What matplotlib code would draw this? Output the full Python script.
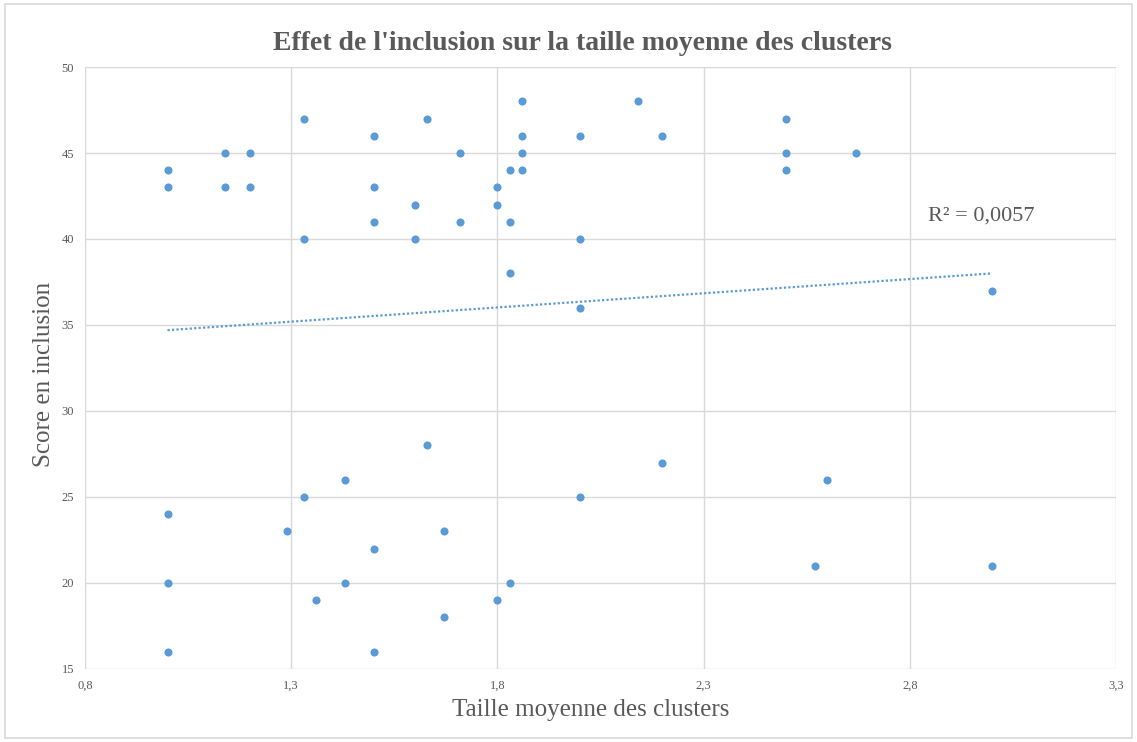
import numpy as np
import matplotlib
matplotlib.use('Agg')
import matplotlib.pyplot as plt
from matplotlib.patches import Rectangle
from matplotlib.ticker import FuncFormatter

# data
taille = [1.0, 1.0, 1.14, 1.14, 1.2, 1.2, 1.33, 1.33, 1.5, 1.5, 1.5, 1.6, 1.6,
          1.63, 1.71, 1.71, 1.8, 1.8, 1.83, 1.83, 1.83, 1.86, 1.86, 1.86, 1.86,
          2.0, 2.0, 2.0, 2.0, 2.14, 2.2, 2.2, 2.5, 2.5, 2.5, 2.67, 3.0, 3.0,
          2.57, 2.6, 1.0, 1.0, 1.0, 1.29, 1.33, 1.36, 1.43, 1.43, 1.5, 1.5,
          1.63, 1.67, 1.67, 1.8, 1.83]
score = [44, 43, 45, 43, 45, 43, 47, 40, 46, 43, 41, 42, 40,
         47, 45, 41, 43, 42, 44, 41, 38, 48, 46, 45, 44,
         46, 40, 36, 25, 48, 46, 27, 47, 45, 44, 45, 37, 21,
         21, 26, 24, 20, 16, 23, 25, 19, 26, 20, 22, 16,
         28, 23, 18, 19, 20]

# linear trend line as shown in the chart (Excel fit)
trend_x = [1.0, 3.0]
trend_y = [34.7, 38.0]
r2_label = "R² = 0,0057"

x_ticks = [0.8, 1.3, 1.8, 2.3, 2.8, 3.3]
y_ticks = [15, 20, 25, 30, 35, 40, 45, 50]

blue = '#5B9BD5'
text_grey = '#595959'
serif = ['Liberation Serif', 'DejaVu Serif']

fig = plt.figure(figsize=(11.37, 7.42), dpi=100)
fig.patches.append(Rectangle((0.004, 0.006), 0.992, 0.988, transform=fig.transFigure,
                             fill=False, edgecolor='#D9D9D9', linewidth=1.2))
ax = fig.add_axes([0.0748, 0.0984, 0.9067, 0.8113])

ax.scatter(taille, score, s=34, color=blue, zorder=3, linewidths=0)
ax.plot(trend_x, trend_y, linestyle=(0, (1, 1)), color=blue, linewidth=1.6, zorder=2)

ax.text(2.845, 41.1, r2_label, fontsize=16, color=text_grey, family=serif)

ax.set_xlim(0.8, 3.3)
ax.set_ylim(15, 50)
ax.set_xticks(x_ticks)
ax.set_yticks(y_ticks)
ax.xaxis.set_major_formatter(FuncFormatter(lambda v, p: f"{v:.1f}".replace('.', ',')))
ax.grid(True, color='#D9D9D9', linewidth=1)
ax.set_axisbelow(True)
for s in ax.spines.values():
    s.set_visible(False)
ax.tick_params(length=0, labelsize=9, colors=text_grey, pad=8)
for lab in ax.get_xticklabels() + ax.get_yticklabels():
    lab.set_family(serif)

ax.set_xlabel("Taille moyenne des clusters", fontsize=18, color=text_grey, family=serif, labelpad=0)
ax.xaxis.set_label_coords(0.49, -0.05)
ax.set_ylabel("Score en inclusion", fontsize=18, color=text_grey, family=serif)
ax.yaxis.set_label_coords(-0.029, 0.49)
fig.text(0.512, 0.942, "Effet de l'inclusion sur la taille moyenne des clusters",
         ha='center', va='center', fontsize=20, fontweight='bold', color=text_grey, family=serif)

fig.savefig('out.png', dpi=100)
